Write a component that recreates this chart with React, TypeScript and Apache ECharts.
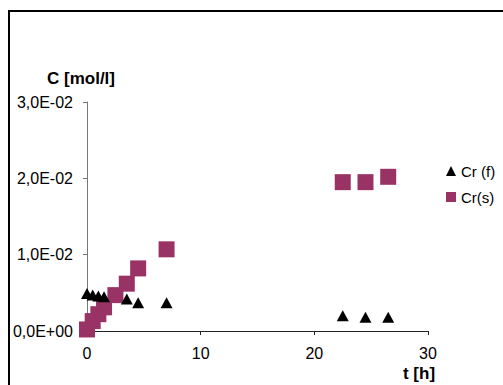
import React, { useEffect, useRef } from "react";
import * as echarts from "echarts";

const FONT = "'Liberation Sans', Arial, sans-serif";

const seriesNames = ["Cr (f)", "Cr(s)"];

const timeF = [0, 0.5, 1, 1.5, 3.5, 4.5, 7, 22.5, 24.5, 26.5];
const concF = [0.0049, 0.0047, 0.0046, 0.0045, 0.0042, 0.0037, 0.0037, 0.002, 0.0018, 0.0018];

const timeS = [0, 0.5, 1, 1.5, 2.5, 3.5, 4.5, 7, 22.5, 24.5, 26.5];
const concS = [0.0002, 0.0013, 0.0022, 0.0031, 0.0047, 0.0062, 0.0082, 0.0107, 0.0195, 0.0195, 0.0202];

const xTicks = [0, 10, 20, 30];
const yTicks = [0, 0.01, 0.02, 0.03];

function sci(v: number): string {
  if (Math.abs(v) < 1e-12) return "0,0E+00";
  const e = Math.floor(Math.log10(Math.abs(v)) + 1e-9);
  const m = v / Math.pow(10, e);
  return `${m.toFixed(1).replace(".", ",")}E${e < 0 ? "-" : "+"}${String(Math.abs(e)).padStart(2, "0")}`;
}

export default function App() {
  const ref = useRef<HTMLDivElement>(null);
  useEffect(() => {
    if (!ref.current) return;
    const chart = echarts.init(ref.current, undefined, { renderer: "svg" });
    chart.setOption({
      animation: false,
      backgroundColor: "#fff",
      textStyle: { fontFamily: FONT },
      grid: { left: 87, right: 75, top: 102, bottom: 54, containLabel: false },
      xAxis: {
        type: "value",
        min: xTicks[0],
        max: xTicks[xTicks.length - 1],
        interval: 10,
        axisLine: { onZero: false, lineStyle: { color: "#222", width: 1 } },
        axisTick: { show: true, length: 4, lineStyle: { color: "#222" } },
        splitLine: { show: false },
        axisLabel: { color: "#000", fontSize: 16, fontFamily: FONT, margin: 14 },
      },
      yAxis: {
        type: "value",
        min: yTicks[0],
        max: yTicks[yTicks.length - 1],
        interval: 0.01,
        axisLine: { show: true, onZero: false, lineStyle: { color: "#777", width: 1 } },
        axisTick: { show: true, length: 4, lineStyle: { color: "#777" } },
        splitLine: { show: false },
        axisLabel: {
          color: "#000",
          fontSize: 16,
          fontFamily: FONT,
          margin: 14,
          formatter: (v: number) => sci(v),
        },
      },
      legend: {
        orient: "vertical",
        left: 446,
        top: 163,
        padding: 0,
        itemWidth: 10,
        itemHeight: 10,
        itemGap: 10,
        itemStyle: { borderWidth: 0 },
        textStyle: { fontSize: 15, color: "#000", fontFamily: FONT, lineHeight: 16 },
        data: [
          { name: seriesNames[0], icon: "triangle" },
          { name: seriesNames[1], icon: "rect" },
        ],
      },
      graphic: [
        {
          type: "rect",
          shape: { x: 9, y: 11, width: 700, height: 700 },
          style: { fill: "none", stroke: "#000", lineWidth: 2 },
          silent: true,
        },
        {
          type: "text",
          x: 81,
          y: 78,
          style: {
            text: "C [mol/l]",
            font: `bold 17px ${FONT}`,
            fill: "#000",
            textAlign: "center",
            textVerticalAlign: "middle",
          },
        },
        {
          type: "text",
          x: 419,
          y: 373,
          style: {
            text: "t [h]",
            font: `bold 17px ${FONT}`,
            fill: "#000",
            textAlign: "center",
            textVerticalAlign: "middle",
          },
        },
      ],
      series: [
        {
          name: seriesNames[1],
          type: "scatter",
          symbol: "rect",
          symbolSize: 16,
          z: 2,
          itemStyle: { color: "#993366", opacity: 1 },
          data: timeS.map((t, i) => [t, concS[i]]),
        },
        {
          name: seriesNames[0],
          type: "scatter",
          symbol: "triangle",
          symbolSize: [12, 11],
          z: 3,
          itemStyle: { color: "#000", opacity: 1 },
          data: timeF.map((t, i) => [t, concF[i]]),
        },
      ],
    });
    return () => chart.dispose();
  }, []);
  return (
    <div
      ref={ref}
      style={{ position: "fixed", left: 0, top: 0, width: 503, height: 385, background: "#fff" }}
    />
  );
}
